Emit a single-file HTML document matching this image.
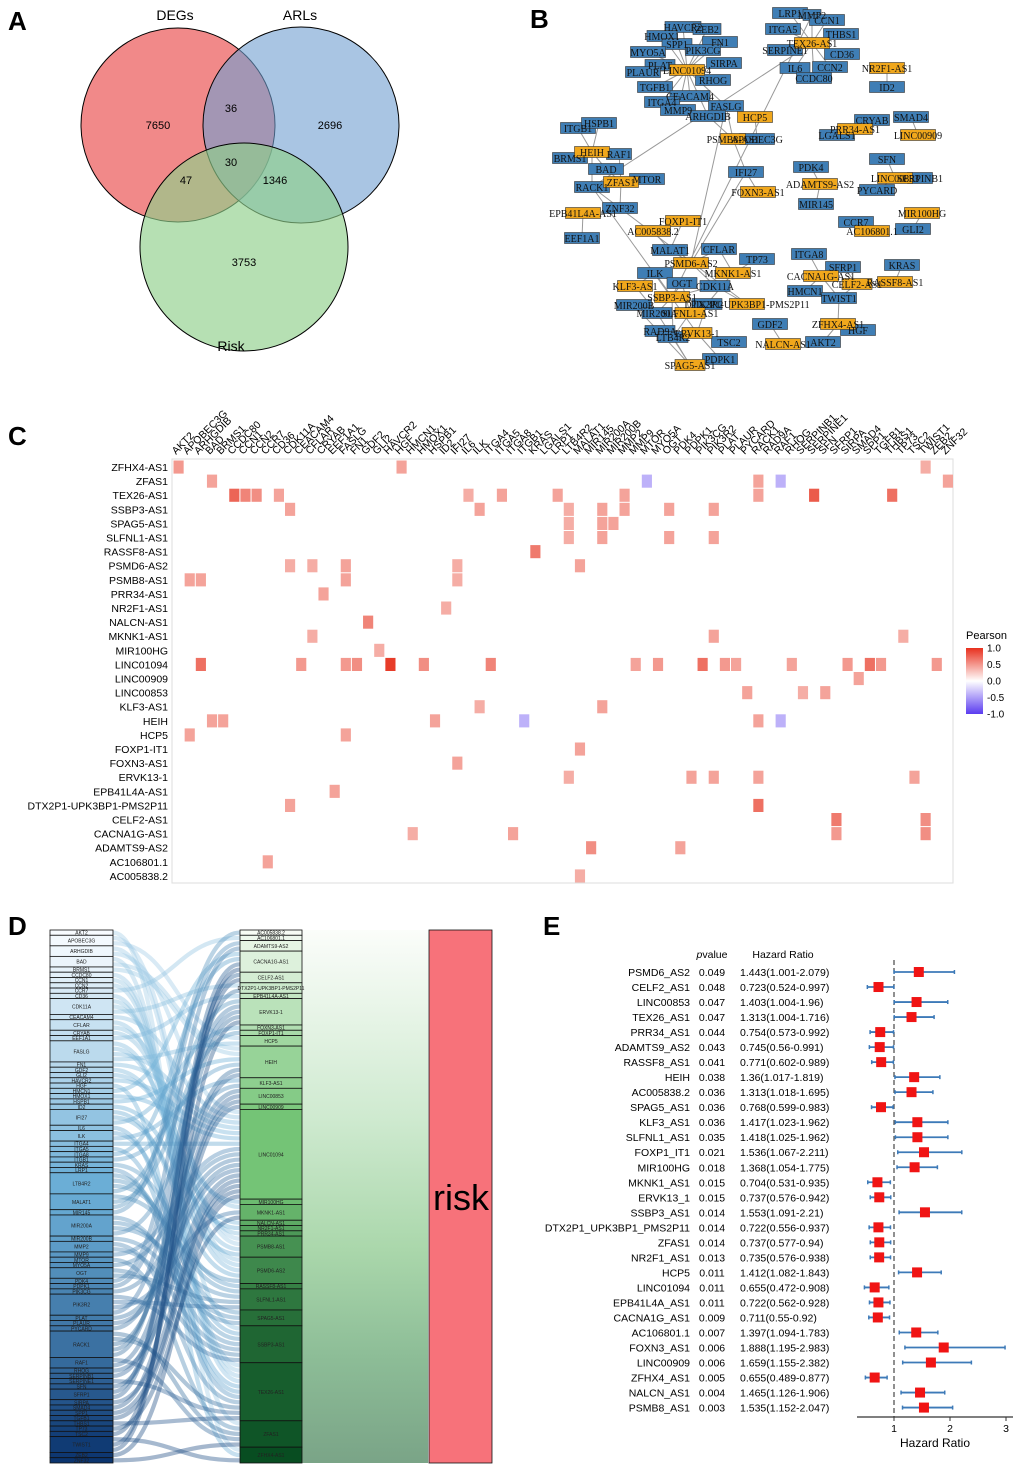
<!DOCTYPE html>
<html><head><meta charset="utf-8"><style>
body{margin:0;background:#fff}
svg{display:block;font-family:"Liberation Sans",sans-serif}
</style></head><body>
<svg id="fig" width="1020" height="1470" viewBox="0 0 1020 1470" xmlns="http://www.w3.org/2000/svg">
<defs>
<linearGradient id="greenBand" x1="0" y1="0" x2="0" y2="1">
<stop offset="0" stop-color="#fbfdfa"/><stop offset="0.35" stop-color="#cfead0"/><stop offset="0.6" stop-color="#aad7ab"/><stop offset="0.8" stop-color="#8dbd97"/><stop offset="1" stop-color="#7aa487"/>
</linearGradient>
<linearGradient id="pearsonBar" x1="0" y1="0" x2="0" y2="1">
<stop offset="0" stop-color="#e8301e"/><stop offset="0.5" stop-color="#ffffff"/><stop offset="1" stop-color="#5b3cf0"/>
</linearGradient>
</defs>
<g font-weight="bold" font-size="26">
<text x="8" y="30">A</text>
<text x="530" y="28">B</text>
<text x="8" y="445">C</text>
<text x="8" y="935">D</text>
<text x="543" y="935">E</text>
</g>
<g>
<circle cx="178" cy="125" r="97" fill="#ee7474" fill-opacity="0.85" stroke="#000"/>
<circle cx="301" cy="125" r="98" fill="#6f9fd0" fill-opacity="0.6" stroke="#000"/>
<circle cx="244" cy="247" r="104" fill="#8fd08a" fill-opacity="0.65" stroke="#000"/>
<g font-size="14" text-anchor="middle">
<text x="175" y="20">DEGs</text>
<text x="300" y="20">ARLs</text>
<text x="231" y="351">Risk</text>
</g>
<g font-size="11" text-anchor="middle">
<text x="158" y="129">7650</text>
<text x="231" y="112">36</text>
<text x="330" y="129">2696</text>
<text x="231" y="166">30</text>
<text x="186" y="184">47</text>
<text x="275" y="184">1346</text>
<text x="244" y="266">3753</text>
</g>
</g>
<g id="net"></g>
<g id="heat"></g>
<g id="sankey"></g>
<g id="forest"></g>
</svg>
<script>
const NS="http://www.w3.org/2000/svg";
const genes=["AKT2","APOBEC3G","ARHGDIB","BAD","BRMS1","CCDC80","CCN1","CCN2","CCR7","CD36","CDK11A","CEACAM4","CFLAR","CRYAB","EEF1A1","FASLG","FN1","GDF2","GLI2","HAVCR2","HGF","HMCN1","HMOX1","HSPB1","ID2","IFI27","IL6","ILK","ITGA4","ITGA5","ITGA8","ITGB1","KRAS","LGALS1","LRP1","LTB4R2","MALAT1","MIR145","MIR200A","MIR200B","MMP2","MMP9","MTOR","MYO5A","OGT","PDK4","PDPK1","PIK3CG","PIK3R2","PLAT","PLAUR","PYCARD","RACK1","RAD9A","RAF1","RHOG","SERPINB1","SERPINE1","SFN","SFRP1","SIRPA","SMAD4","SPP1","TGFB1","THBS1","TP73","TSC2","TWIST1","ZEB2","ZNF32"];
const lncs=["ZFHX4-AS1","ZFAS1","TEX26-AS1","SSBP3-AS1","SPAG5-AS1","SLFNL1-AS1","RASSF8-AS1","PSMD6-AS2","PSMB8-AS1","PRR34-AS1","NR2F1-AS1","NALCN-AS1","MKNK1-AS1","MIR100HG","LINC01094","LINC00909","LINC00853","KLF3-AS1","HEIH","HCP5","FOXP1-IT1","FOXN3-AS1","ERVK13-1","EPB41L4A-AS1","DTX2P1-UPK3BP1-PMS2P11","CELF2-AS1","CACNA1G-AS1","ADAMTS9-AS2","AC106801.1","AC005838.2"];
const cellRow=[0,0,0, 1,1,1,1,1, 2,2,2,2,2,2,2,2,2,2,2, 3,3,3,3,3,3,3, 4,4,4, 5,5,5,5, 6, 7,7,7,7,7, 8,8,8,8, 9, 10, 11, 12,12,12, 13, 14,14,14,14,14,14,14,14,14,14,14,14,14,14,14,14,14, 15, 16,16,16, 17,17, 18,18,18,18,18,18, 19,19, 20, 21, 22,22,22,22,22, 23, 24,24, 25,25, 26,26,26,26, 27,27, 28, 29];
const cellCol=[0,20,67, 3,42,52,54,69, 5,6,7,9,26,29,34,40,52,57,64, 10,27,35,38,40,44,48, 35,38,39, 35,38,44,48, 32, 10,12,15,25,36, 1,2,15,25, 13, 24, 17, 12,48,65, 18, 2,11,15,16,19,22,28,41,43,47,49,50,55,60,62,63,68, 61, 51,56,58, 27,38, 3,4,23,31,52,54, 1,15, 36, 25, 35,46,48,52,66, 14, 10,52, 59,67, 21,30,59,67, 37,45, 8, 36];
const cellVal=[0.5,0.45,0.4, 0.45,-0.4,0.45,-0.4,0.45, 0.75,0.6,0.55,0.45,0.4,0.45,0.45,0.45,0.45,0.8,0.7, 0.45,0.45,0.4,0.45,0.45,0.45,0.45, 0.4,0.45,0.45, 0.4,0.45,0.45,0.45, 0.65, 0.4,0.4,0.45,0.4,0.45, 0.45,0.45,0.45,0.4, 0.45, 0.4, 0.6, 0.4,0.45,0.4, 0.4, 0.7,0.5,0.5,0.55,0.95,0.55,0.6,0.45,0.5,0.7,0.5,0.45,0.45,0.5,0.7,0.5,0.5, 0.45, 0.45,0.4,0.45, 0.4,0.45, 0.45,0.45,0.45,-0.4,0.45,-0.4, 0.45,0.45, 0.45, 0.45, 0.4,0.45,0.45,0.45,0.45, 0.45, 0.45,0.7, 0.65,0.55, 0.4,0.45,0.5,0.55, 0.55,0.45, 0.45, 0.4];
const colorTicks=[1.0,0.5,0.0,-0.5,-1.0];
const fNames=["PSMD6_AS2","CELF2_AS1","LINC00853","TEX26_AS1","PRR34_AS1","ADAMTS9_AS2","RASSF8_AS1","HEIH","AC005838.2","SPAG5_AS1","KLF3_AS1","SLFNL1_AS1","FOXP1_IT1","MIR100HG","MKNK1_AS1","ERVK13_1","SSBP3_AS1","DTX2P1_UPK3BP1_PMS2P11","ZFAS1","NR2F1_AS1","HCP5","LINC01094","EPB41L4A_AS1","CACNA1G_AS1","AC106801.1","FOXN3_AS1","LINC00909","ZFHX4_AS1","NALCN_AS1","PSMB8_AS1"];
const fP=["0.049","0.048","0.047","0.047","0.044","0.043","0.041","0.038","0.036","0.036","0.036","0.035","0.021","0.018","0.015","0.015","0.014","0.014","0.014","0.013","0.011","0.011","0.011","0.009","0.007","0.006","0.006","0.005","0.004","0.003"];
const fHR=[1.443,0.723,1.403,1.313,0.754,0.745,0.771,1.36,1.313,0.768,1.417,1.418,1.536,1.368,0.704,0.737,1.553,0.722,0.737,0.735,1.412,0.655,0.722,0.711,1.397,1.888,1.659,0.655,1.465,1.535];
const fLo=[1.001,0.524,1.004,1.004,0.573,0.56,0.602,1.017,1.018,0.599,1.023,1.025,1.067,1.054,0.531,0.576,1.091,0.556,0.577,0.576,1.082,0.472,0.562,0.55,1.094,1.195,1.155,0.489,1.126,1.152];
const fHi=[2.079,0.997,1.96,1.716,0.992,0.991,0.989,1.819,1.695,0.983,1.962,1.962,2.211,1.775,0.935,0.942,2.21,0.937,0.94,0.938,1.843,0.908,0.928,0.92,1.783,2.983,2.382,0.877,1.906,2.047];
const fTicks=[1,2,3];

function mk(tag,attrs,parent,txt){const e=document.createElementNS(NS,tag);for(const k in attrs)e.setAttribute(k,attrs[k]);if(txt!==undefined)e.textContent=txt;parent.appendChild(e);return e;}

/* ---------- heatmap ---------- */
const heat=document.getElementById('heat');
const hx0=173,hcw=11.15,hy0=460,hrh=14.1;
const hx=c=>hx0+c*hcw, hy=r=>hy0+r*hrh;
function pcol(v){if(v>=0){return `rgb(${Math.round(255-v*25)},${Math.round(255-v*205)},${Math.round(255-v*225)})`;}const a=-v;return `rgb(${Math.round(255-a*164)},${Math.round(255-a*195)},${Math.round(255-a*15)})`;}
const frame=mk('rect',{x:172,y:459,width:781,height:424,fill:'none',stroke:'#ddd'},heat);


genes.forEach((g,i)=>{const t=mk('text',{x:hx(i)+3,y:455,'font-size':'10.5',transform:`rotate(-45 ${hx(i)+3} 455)`},heat,g);

});
lncs.forEach((l,i)=>{const t=mk('text',{x:168,y:hy(i)+11,'font-size':'10.5','text-anchor':'end'},heat,l);

});
cellRow.forEach((r,k)=>{const c=mk('rect',{x:hx(cellCol[k])+0.5,y:hy(r)+0.5,width:hcw-1,height:hrh-1,fill:pcol(cellVal[k])},heat);

});
const lt=mk('text',{x:966,y:639,'font-size':'11'},heat,'Pearson');


const cb=mk('rect',{x:966,y:648,width:17,height:66,fill:'url(#pearsonBar)'},heat);


colorTicks.forEach(v=>{const y=681-v*33;const t=mk('text',{x:987,y:y+3.5,'font-size':'10'},heat,v.toFixed(1));

});

/* ---------- network ---------- */
const net=document.getElementById('net');
const nodes=[
["HAVCR2",683,27,36,0],["ZEB2",707,29,28,0],["HMOX1",662,36,30,0],["SPP1",677,44,30,0],["FN1",720,42,35,0],["MYO5A",648,52,35,0],["PIK3CG",703,50,35,0],["SIRPA",724,63,35,0],["PLAT",660,65,30,0],["PLAUR",643,72,35,0],["RHOG",713,80,35,0],["TGFB1",655,87,35,0],["CEACAM4",690,96,40,0],["ITGA4",662,102,35,0],["FASLG",726,106,35,0],["MMP9",678,110,35,0],["ARHGDIB",708,116,35,0],
["LRP1",790,13,35,0],["MMP2",812,15,18,0],["CCN1",827,20,35,0],["ITGA5",783,29,35,0],["THBS1",841,34,35,0],["SERPINE1",785,50,35,0],["CD36",842,54,35,0],["IL6",795,68,30,0],["CCN2",830,67,35,0],["CCDC80",814,78,35,0],["ID2",887,87,35,0],["CRYAB",872,120,35,0],["SMAD4",911,117,35,0],["LGALS1",837,135,35,0],
["ITGB1",578,128,35,0],["HSPB1",599,123,35,0],["BRMS1",570,158,35,0],["RAF1",619,154,25,0],["BAD",606,169,35,0],["MTOR",647,179,35,0],["RACK1",592,187,35,0],["ZNF32",620,208,35,0],["EEF1A1",582,238,35,0],
["APOBEC3G",757,139,35,0],["IFI27",746,172,35,0],["PDK4",811,167,35,0],["MIR145",816,204,35,0],["SFN",887,159,35,0],["SERPINB1",920,178,25,0],["PYCARD",877,190,35,0],["CCR7",856,222,35,0],["GLI2",913,229,35,0],
["MALAT1",670,250,35,0],["CFLAR",719,249,35,0],["TP73",757,259,35,0],["ILK",655,273,35,0],["OGT",682,283,30,0],["CDK11A",715,286,30,0],["PIK3R2",707,304,30,0],["MIR200B",634,305,35,0],["MIR200A",657,313,30,0],["RAD9A",660,331,30,0],["LTB4R2",673,337,30,0],["TSC2",729,342,35,0],["PDPK1",720,359,35,0],["GDF2",770,324,35,0],["AKT2",823,342,35,0],["ITGA8",809,254,35,0],["SFRP1",843,267,35,0],["KRAS",902,265,35,0],["HMCN1",805,291,35,0],["TWIST1",839,298,35,0],["HGF",858,330,35,0],
["LINC01094",687,70,35,1],["TEX26-AS1",812,43,35,1],["NR2F1-AS1",887,68,35,1],["HCP5",755,117,35,1],["PSMB8-AS1",733,139,25,1],["PRR34-AS1",855,129,35,1],["LINC00909",918,135,35,1],["HEIH",592,152,35,1],["ZFAS1",621,182,35,1],["EPB41L4A-AS1",583,213,35,1],["FOXN3-AS1",758,192,35,1],["ADAMTS9-AS2",820,184,35,1],["LINC00853",895,178,35,1],["FOXP1-IT1",683,221,35,1],["AC005838.2",653,231,35,1],["MIR100HG",922,213,35,1],["AC106801.1",872,231,35,1],["PSMD6-AS2",691,263,35,1],["MKNK1-AS1",733,273,35,1],["KLF3-AS1",635,286,35,1],["SSBP3-AS1",672,297,35,1],["SLFNL1-AS1",690,313,30,1],["DTX2P1-UPK3BP1-PMS2P11",747,304,35,1],["ERVK13-1",697,333,30,1],["SPAG5-AS1",690,365,30,1],["CACNA1G-AS1",821,276,35,1],["CELF2-AS1",857,284,30,1],["RASSF8-AS1",895,282,35,1],["ZFHX4-AS1",838,324,35,1],["NALCN-AS1",783,344,35,1]];
const pos={};nodes.forEach(n=>pos[n[0]]=n);
const eg=mk('g',{stroke:'#999','stroke-width':'1'},net);
cellRow.forEach((r,k)=>{const a=pos[lncs[r]],b=pos[genes[cellCol[k]]];if(a&&b){const l=mk('line',{x1:a[1],y1:a[2],x2:b[1],y2:b[2]},eg);

}});
nodes.forEach(n=>{const r=mk('rect',{x:n[1]-n[3]/2,y:n[2]-5.5,width:n[3],height:11,fill:n[4]?'#f0a71c':'#3f7eb5',stroke:'#333','stroke-width':'0.6'},net);

});
nodes.forEach(n=>{const t=mk('text',{x:n[1],y:n[2]+4,'font-size':'10','text-anchor':'middle','font-family':'Liberation Serif, serif',fill:'#111'},net,n[0]);

});

/* ---------- sankey ---------- */
const sk=document.getElementById('sankey');
const sTop=930,sH=533,total=cellRow.length,unit=sH/total;
const midOrder=lncs.slice().reverse();
const degG=genes.map((g,i)=>cellCol.filter(c=>c===i).length);
const degL=midOrder.map(l=>{const r=lncs.indexOf(l);return cellRow.filter(x=>x===r).length;});
const gY=[];let acc=sTop;degG.forEach(d=>{gY.push(acc);acc+=d*unit;});
const lY=[];acc=sTop;degL.forEach(d=>{lY.push(acc);acc+=d*unit;});
function ramp(t,a,m,b){let s,e,u;if(t<0.5){s=a;e=m;u=t*2;}else{s=m;e=b;u=(t-0.5)*2;}return `rgb(${s.map((v,i)=>Math.round(v+(e[i]-v)*u)).join(',')})`;}
function blues(t){return ramp(t,[247,251,255],[107,174,214],[8,48,107]);}
function greens(t){return ramp(t,[247,252,245],[116,196,118],[0,68,27]);}
const band=mk('rect',{x:302,y:sTop,width:126,height:sH,fill:'url(#greenBand)'},sk);


const gUsed=degG.map(()=>0),lUsed=degL.map(()=>0);
const fg=mk('g',{fill:'none'},sk);
const order=cellRow.map((r,k)=>k).sort((a,b)=>cellCol[a]-cellCol[b]);
order.forEach(k=>{const gi=cellCol[k],li=midOrder.indexOf(lncs[cellRow[k]]);
const y1=gY[gi]+(gUsed[gi]++ +0.5)*unit,y2=lY[li]+(lUsed[li]++ +0.5)*unit;
const p=mk('path',{d:`M113 ${y1} C176 ${y1} 176 ${y2} 240 ${y2}`,stroke:blues(0.3+0.6*gi/genes.length),'stroke-width':unit*0.8,'stroke-opacity':'0.4'},fg);

});
genes.forEach((g,i)=>{const h=degG[i]*unit;if(!h)return;const r=mk('rect',{x:50,y:gY[i],width:63,height:h,fill:blues(i/genes.length),stroke:'#111','stroke-width':'0.8'},sk);


const t=mk('text',{x:81.5,y:gY[i]+h/2+2,'font-size':'5','text-anchor':'middle',fill:'#222'},sk,g);

});
midOrder.forEach((l,i)=>{const h=degL[i]*unit;const r=mk('rect',{x:240,y:lY[i],width:62,height:h,fill:greens(i/midOrder.length),stroke:'#111','stroke-width':'0.8'},sk);


const t=mk('text',{x:271,y:lY[i]+h/2+2,'font-size':'5','text-anchor':'middle',fill:'#222'},sk,l);

});
const rk=mk('rect',{x:429,y:sTop,width:63,height:sH,fill:'#f7727a',stroke:'#111','stroke-width':'0.8'},sk);


const rt=mk('text',{x:461,y:1210,'font-size':'36','text-anchor':'middle',fill:'#000'},sk,'risk');



/* ---------- forest ---------- */
const fo=document.getElementById('forest');
const fx=v=>894+(v-1)*56, fy=i=>972+i*15.02;
const h1=mk('text',{x:712,y:958,'font-size':'10.5','text-anchor':'middle'},fo,'');
mk('tspan',{'font-style':'italic'},h1,'p');mk('tspan',{},h1,'value');


const h2=mk('text',{x:783,y:958,'font-size':'10.5','text-anchor':'middle'},fo,'Hazard Ratio');


const dl=mk('line',{x1:894,y1:960,x2:894,y2:1417,stroke:'#555','stroke-dasharray':'5,3','stroke-width':'1.3'},fo);


fNames.forEach((n,i)=>{const y=fy(i);
const a=mk('text',{x:690,y:y+4,'font-size':'10.5','text-anchor':'end'},fo,n);


const b=mk('text',{x:712,y:y+4,'font-size':'10.5','text-anchor':'middle'},fo,fP[i]);


const c=mk('text',{x:740,y:y+4,'font-size':'10.5'},fo,`${fHR[i]}(${fLo[i]}-${fHi[i]})`);


const w=mk('line',{x1:fx(fLo[i]),y1:y,x2:fx(fHi[i]),y2:y,stroke:'#3d7ab8','stroke-width':'1.8'},fo);


[fLo[i],fHi[i]].forEach(v=>{const cap=mk('line',{x1:fx(v),y1:y-2,x2:fx(v),y2:y+2,stroke:'#3d7ab8','stroke-width':'1.5'},fo);

});
const s=mk('rect',{x:fx(fHR[i])-5,y:y-5,width:10,height:10,fill:'#f01414'},fo);

});
const ax=mk('line',{x1:857,y1:1417,x2:1013,y2:1417,stroke:'#333','stroke-width':'1.3'},fo);


fTicks.forEach(v=>{const tk=mk('line',{x1:fx(v),y1:1417,x2:fx(v),y2:1421,stroke:'#333'},fo);


const tl=mk('text',{x:fx(v),y:1432,'font-size':'10.5','text-anchor':'middle'},fo,String(v));

});
const xt=mk('text',{x:935,y:1447,'font-size':'12','text-anchor':'middle'},fo,'Hazard Ratio');


</script>
</body></html>
